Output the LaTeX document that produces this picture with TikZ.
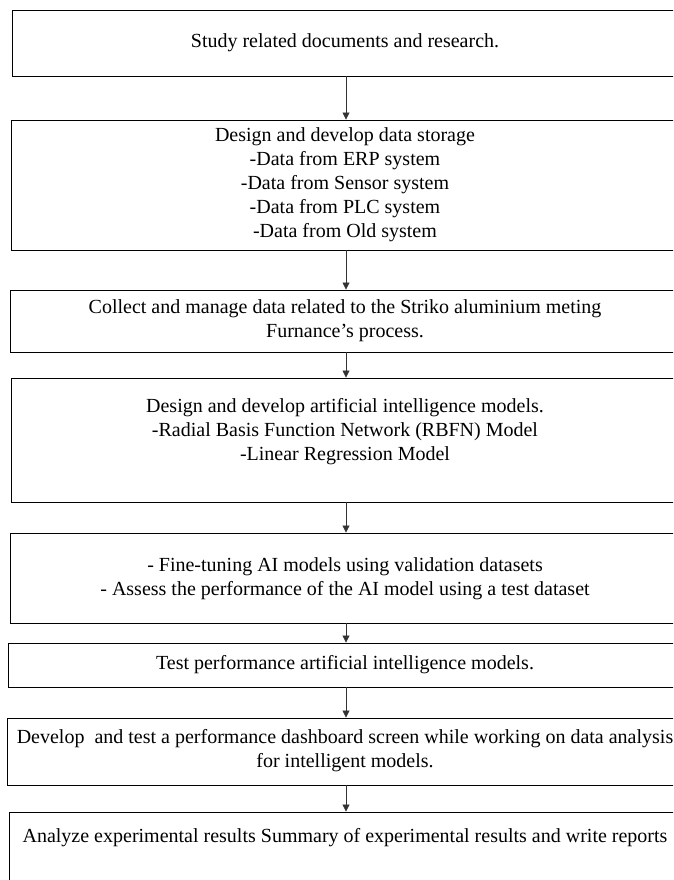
\documentclass[tikz,border=0pt]{standalone}
\usepackage{fontspec}
\setmainfont{Liberation Serif}
\usetikzlibrary{arrows.meta}
\begin{document}
\begin{tikzpicture}[x=1pt,y=-1pt,
  stepbox/.style={draw=black, line width=0.9pt, inner sep=0pt},
  steptext/.style={align=center, inner sep=0pt, text=black,
    font=\fontsize{20}{24}\selectfont},
  flow/.style={draw=black!80, line width=0.8pt, -{Triangle[length=7pt,width=7pt]}}]
\useasboundingbox (0,0) rectangle (673,880);
\clip (0,0) rectangle (673,880);
\fill[white] (0,0) rectangle (673,880);

% frames of the eight steps
\node[stepbox, minimum width=668pt, minimum height=66pt]  (b1) at (346,43) {};
\node[stepbox, minimum width=670pt, minimum height=130pt] (b2) at (346,185) {};
\node[stepbox, minimum width=672pt, minimum height=62pt]  (b3) at (346,321) {};
\node[stepbox, minimum width=670pt, minimum height=124pt] (b4) at (346,440) {};
\node[stepbox, minimum width=672pt, minimum height=90pt]  (b5) at (346,578) {};
\node[stepbox, minimum width=676pt, minimum height=44pt]  (b6) at (346,665) {};
\node[stepbox, minimum width=678pt, minimum height=67pt]  (b7) at (346,751.5) {};
\node[stepbox, minimum width=674pt, minimum height=80pt]  (b8) at (346,852) {};

% step texts
\node[steptext] (t1) at (345,43) {Study related documents and research.};
\node[steptext] (t2) at (345,185)
  {Design and develop data storage\\-Data from ERP system\\-Data from Sensor system\\-Data from PLC system\\-Data from Old system};
\node[steptext] (t3) at (345,321)
  {Collect and manage data related to the Striko aluminium meting\\Furnance's process.};
\node[steptext] (t4) at (345,432)
  {Design and develop artificial intelligence models.\\-Radial Basis Function Network (RBFN) Model\\-Linear Regression Model};
\node[steptext] (t5) at (345,579)
  {- Fine-tuning AI models using validation datasets\\- Assess the performance of the AI model using a test dataset};
\node[steptext] (t6) at (345,665) {Test performance artificial intelligence models.};
\node[steptext] (t7) at (345,751)
  {Develop\ \ and test a performance dashboard screen while working on data analysis\\for intelligent models.};
\node[steptext] (t8) at (345,838)
  {Analyze experimental results Summary of experimental results and write reports};

% connectors
\draw[flow] (b1.south) -- (b2.north);
\draw[flow] (b2.south) -- (b3.north);
\draw[flow] (b3.south) -- (b4.north);
\draw[flow] (b4.south) -- (b5.north);
\draw[flow] (b5.south) -- (b6.north);
\draw[flow] (b6.south) -- (b7.north);
\draw[flow] (b7.south) -- (b8.north);
\end{tikzpicture}
\end{document}
